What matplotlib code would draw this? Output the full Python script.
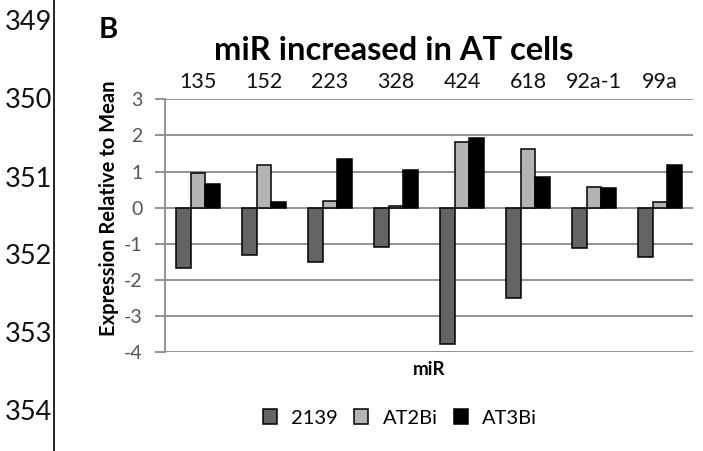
import matplotlib
matplotlib.use("Agg")
import matplotlib.pyplot as plt
import numpy as np
from matplotlib.patches import Patch
from matplotlib.lines import Line2D

plt.rcParams['font.family'] = ['Lato', 'DejaVu Sans']

categories = ["135", "152", "223", "328", "424", "618", "92a-1", "99a"]
series_names = ["2139", "AT2Bi", "AT3Bi"]
v2139 = [-1.66, -1.31, -1.51, -1.10, -3.77, -2.49, -1.12, -1.35]
vAT2Bi = [0.97, 1.17, 0.18, 0.06, 1.82, 1.62, 0.57, 0.15]
vAT3Bi = [0.67, 0.15, 1.35, 1.04, 1.93, 0.85, 0.55, 1.18]
yticks = [3, 2, 1, 0, -1, -2, -3, -4]
line_numbers = ["349", "350", "351", "352", "353", "354"]

colors = ["#646464", "#b4b4b4", "#000000"]

W, H = 703, 451
fig = plt.figure(figsize=(W / 100, H / 100), dpi=100)
ax = fig.add_axes([165 / W, 1 - 352.3 / H, (693 - 165) / W, (352.3 - 99.3) / H])

x = np.arange(len(categories))
bw = 0.226
for i, (vals, c) in enumerate(zip([v2139, vAT2Bi, vAT3Bi], colors)):
    ax.bar(x + (i - 1) * bw, vals, width=bw, color=c, edgecolor="black",
           linewidth=1.1, zorder=3)

ax.set_xlim(-0.5, len(categories) - 0.5)
ax.set_ylim(-4, 3)
ax.set_yticks(yticks)
ax.set_yticklabels([str(t) for t in yticks])
ax.yaxis.grid(True, color="#8a8a8a", linewidth=1.3, zorder=0)
ax.set_axisbelow(True)
for s in ["top", "right", "bottom"]:
    ax.spines[s].set_visible(False)
ax.spines["left"].set_color("#8a8a8a")
ax.spines["left"].set_linewidth(1.3)
ax.tick_params(axis="y", direction="out", length=7, width=1.3, color="#8a8a8a",
               labelsize=14, labelcolor="#555555", pad=9)

ax.xaxis.tick_top()
ax.set_xticks(x)
ax.set_xticklabels(categories, fontsize=15.5, color="#111111")
ax.tick_params(axis="x", length=0, pad=5)

ax.set_ylabel("Expression Relative to Mean", fontsize=14.5, fontweight="bold")
ax.yaxis.set_label_coords(-0.087, 0.57)
ax.set_xlabel("miR", fontsize=13.5, fontweight="bold", labelpad=6)

fig.text(394 / W, 1 - 51 / H, "miR increased in AT cells", ha="center",
         va="center", fontsize=23.5, fontweight="bold")
fig.text(99 / W, 1 - 30 / H, "B", ha="left", va="center", fontsize=21,
         fontweight="bold")

for k, n in enumerate(line_numbers):
    fig.text(52 / W, 1 - (23 + 78 * k) / H, n, ha="right", va="center",
             fontsize=19.5, color="#111111")
fig.add_artist(Line2D([53.5 / W, 53.5 / W], [0, 1], color="black",
                      linewidth=1.2, transform=fig.transFigure))

handles = [Patch(facecolor=c, edgecolor="black", linewidth=1.1) for c in colors]
fig.legend(handles, series_names, loc="center", bbox_to_anchor=(400 / W, 1 - 418 / H),
           ncol=3, frameon=False, fontsize=14.5, handlelength=0.7, handleheight=0.7,
           handletextpad=0.7, columnspacing=0.8)

fig.savefig("out.png", dpi=100)
